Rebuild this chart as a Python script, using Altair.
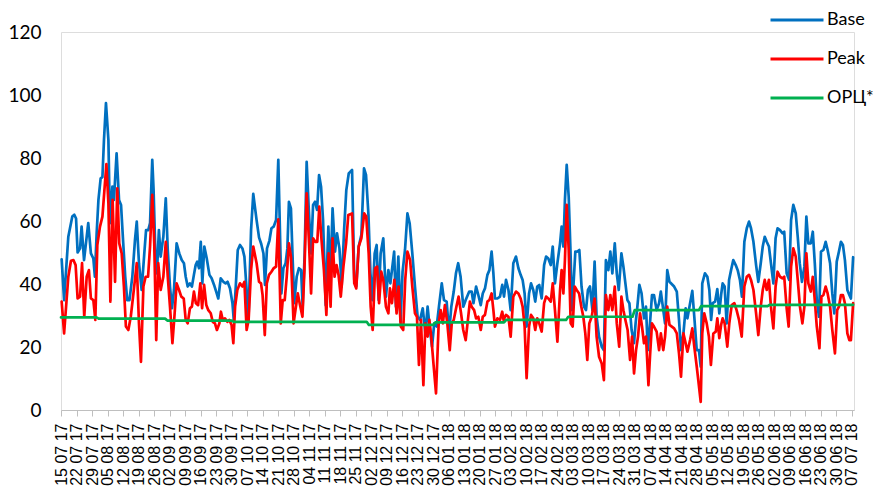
import altair as alt
import pandas as pd

tick_labels = ['15 07 17', '22 07 17', '29 07 17', '05 08 17', '12 08 17', '19 08 17', '26 08 17',
               '02 09 17', '09 09 17', '16 09 17', '23 09 17', '30 09 17', '07 10 17', '14 10 17',
               '21 10 17', '28 10 17', '04 11 17', '11 11 17', '18 11 17', '25 11 17', '02 12 17',
               '09 12 17', '16 12 17', '23 12 17', '30 12 17', '06 01 18', '13 01 18', '20 01 18',
               '27 01 18', '03 02 18', '10 02 18', '17 02 18', '24 02 18', '03 03 18', '10 03 18',
               '17 03 18', '24 03 18', '31 03 18', '07 04 18', '14 04 18', '21 04 18', '28 04 18',
               '05 05 18', '12 05 18', '19 05 18', '26 05 18', '02 06 18', '09 06 18', '16 06 18',
               '23 06 18', '30 06 18', '07 07 18']

base_day = [0.3, 1.4, 3.3, 5.1, 6, 6.8, 7.5, 8.6, 9.3, 10.4, 12.3, 13.5, 14.6, 15.3, 16.1, 16.9, 17.9, 18.7,
            19.4, 20.3, 21.4, 22.1, 23.2, 23.9, 25.1, 26.2, 27.1, 28.1, 29, 29.9, 30.9, 32.2, 33.4, 34.2,
            35.2, 36.4, 37.5, 38.4, 39.4, 40.2, 41.2, 41.8, 42.6, 43.3, 44.2, 45, 46.2, 47.3, 48.2, 49.2,
            50.1, 51, 52.2, 53.4, 54.5, 55.5, 56.3, 57.2, 58.2, 59.1, 60, 60.8, 61.5, 62.3, 63.1, 63.8,
            64.7, 65.8, 67, 68, 69.1, 70.3, 71, 72.1, 73.3, 74.3, 75.2, 76.3, 77.4, 78, 78.9, 79.8, 80.8,
            81.9, 82.8, 83.8, 84.6, 85.8,
            86.8, 88.3, 89.4, 90.4, 91.4, 92.1, 93, 94.1, 95, 96, 97.1, 98.1, 99.5, 100.4, 101.4, 102.2,
            102.9, 103.8, 104.6, 105.3, 106.4, 107.4, 108.4, 109.1, 110, 110.9, 111.8, 112.9, 113.8,
            114.7, 115.6, 116.5, 117.4, 118.3, 119.5, 120.7, 121.6, 122.6, 123.7, 124.6, 125.7, 126.7,
            127.8, 128.8, 129.9, 131.4, 132.4, 133.3, 134.4, 135.6, 136.8, 137.7, 138.8, 139.7, 140.6,
            141.6, 142.5, 143.4, 144.3, 145.5, 146.7, 147.8, 148.7, 150.4, 151.2, 152.3, 153.3, 154.2,
            155.3, 156.4, 157.4, 158.6, 159.8, 161, 162.1, 163.3, 164.5, 165.5, 166.4, 167.5, 168.5,
            169.6, 170.7, 171.9, 172.9, 174.1, 175.2, 176.2, 177.3, 178.3, 179.3, 180.4, 181.6, 182.7,
            184.3, 185.4, 186.2, 187.4, 188.4, 189.5, 190.4, 191.4, 192.5, 193.4, 194.4, 195.2, 195.9,
            197, 198.2, 199.2, 200, 200.9, 202, 203, 204.2, 205.4, 206.5, 207.5, 208.4, 209.3, 210.2,
            211.3, 212.2, 213.2, 214.1, 215, 215.9, 217, 218.1, 219, 220, 221.1, 222, 223, 224.1, 225.3,
            226, 226.8, 227.5, 228.3, 229.2, 230, 230.7, 231.4, 232.2, 233.1, 234, 235, 236.1, 237,
            237.9, 238.8, 239.9, 240.9, 241.8, 242.9, 244.1, 245.1, 246, 247.1, 248, 248.9, 250, 250.9,
            251.8, 253, 253.9, 254.8, 255.7, 256.6, 257.6, 258.7, 259.4, 260.2, 261.1, 262.1, 263.2,
            264.1, 264.9, 265.9, 266.8, 267.7, 268.9, 270, 270.8, 271.9, 272.7, 273.7,
            274.7, 276.8, 278, 279, 279.9, 281, 282, 282.8, 284, 285, 285.9, 287, 288, 288.8, 289.5,
            290.7, 291.8, 292.7, 293.5, 294.2, 295.3, 296.3, 297.2, 298, 298.7, 299.6, 300.5, 301.6,
            302.5, 303.5, 304.6, 305.5, 306.5, 307.4, 308.5, 309.6, 310.6, 311.5, 312.6, 313.8, 314.8,
            315.9, 316.8, 317.7, 318.6, 319.6, 320.5, 321.6, 322.6, 323.5, 324.6, 325.7, 326.5, 327.6,
            328.7, 329.6, 330.6, 331.7, 332.6, 333.5, 334.5, 335.6, 336.5, 337.4, 338.5, 339.4, 340.3,
            341.2, 342.2, 343.1, 344.2, 345.2, 346.1, 347.2, 348.2, 349.1, 350.2, 351.2, 352.1, 353,
            353.9, 355, 355.9, 356.6, 357.6]
base_val = [47.8, 34.9, 55, 61.4, 62, 60.8, 50, 51.3, 58.2, 47.6, 59.3, 49.7, 48.1, 42.3, 56.1, 66.7, 73.5,
            73.9, 85.7, 97.4, 85.7, 59.3, 70.9, 66.7, 81.5, 66.7, 65.1, 52.9, 42.3, 34.9, 34.9, 42.3, 54,
            59.8, 46.6, 38.1, 48.7, 57.1, 57.1, 59.3, 79.4, 69.8, 49.7, 43.4, 57.1, 48.7, 55, 67.2, 50.8,
            39.2, 32.3, 38.1, 52.9, 49.7, 47.6, 46.6, 42.3, 39.2, 40.2, 39.2, 42.9, 46, 47.1, 45, 53.4,
            40.2, 51.9, 48.1, 42.9, 41.8, 39.7, 37, 35.4, 41.8, 40.7, 40.2, 40.7, 38.6, 33.9, 28.6, 39.2,
            50.8, 52.4, 51.3, 48.7, 38.1, 28, 57.1,
            68.6, 60.3, 54.8, 52.7, 49.7, 39.7, 51.3, 53.8, 57.7, 58.2, 60.3, 79.4, 37, 45, 46.6, 51.3,
            66.1, 64, 47.6, 33.9, 42.3, 45, 44.4, 32.8, 49.7, 78.8, 64.6, 49.7, 65.1, 66.1, 63.5, 74.6,
            70.9, 60.3, 33.3, 58.2, 41.3, 64, 50.3, 56.1, 51.3, 39.2, 57.1, 69.8, 75.1, 76.2, 41.3, 39.2,
            51.9, 55.6, 76.7, 74.6, 61.9, 43.4, 34.9, 49.7, 52.4, 34.9, 49.7, 54.5, 36, 44.4, 40.2, 50.3,
            32.8, 48.7, 28, 43.9, 50.8, 62.4, 59.3, 49.7, 39.2, 29.6, 28.6, 32.3, 24.3, 32.8, 26.5, 20.1,
            27.5, 26.5, 33.3, 40.2, 34.9, 34.4, 24.3, 32.8, 37.6, 43.4, 46.6, 42.3, 32.8, 34.9,
            37.6, 37.6, 33.9, 39.2, 36.5, 33.3, 37, 38.6, 42.9, 44.4, 50.3, 43.4, 35.4, 35.4, 36, 39.7,
            36, 41.3, 38.1, 31.7, 46.6, 48.7, 45, 42.9, 41.3, 37, 26.5, 37, 40.2, 38.1, 34.4, 39.2, 39.7,
            35.4, 46, 48.7, 48.1, 46, 51.9, 40.2, 46.6, 52.9, 58.2, 51.9, 66.7, 77.8, 67.7, 50.8, 31.7,
            40.2, 50.3, 50.3, 50.8, 39.2, 32.8, 31.7, 38.1, 39.2, 31.7, 47.1, 29.6, 23.3, 20.1, 19, 47.6,
            44.4, 50.3, 43.4, 52.9, 43.4, 38.1, 49.7, 45.5, 40.2, 34.9, 33.9, 25.4, 21.2, 27.5, 32.8,
            39.7, 37, 29.1, 32.8, 19, 27.5, 36.5, 36.5, 31.7, 33.9, 37.6, 31.7, 27.5, 44.4,
            40.7, 39.2, 37.6, 28.6, 19, 24.3, 32.3, 29.1, 33.9, 37.8, 29.6, 19, 19, 13.8, 40.2, 43.4,
            42.3, 38.1, 28.6, 33.9, 34.4, 38.4, 30.7, 36.5, 40.2, 39.2, 27.5, 41.3, 44.4, 47.6, 46, 44.4,
            41.3, 36, 53.4, 57.7, 59.8, 57.7, 53.4, 46, 40.7, 46.6, 51.9, 55, 53.4, 51.9, 46.6, 40.2,
            54.5, 57.7, 57.1, 56.1, 56.6, 43.4, 41.3, 60.3, 65.1, 62.4, 55, 46.6, 40.7, 45.5, 61.4, 52.9,
            52.9, 56.6, 46.6, 34.9, 29.6, 50.3, 50.8, 53.4, 50.8, 46.6, 37, 30.7, 47.1, 50.3, 53.4, 52.4,
            47.6, 38.1, 36.5, 35.4, 48.5]

peak_day = [0.3, 1.4, 3.3, 4.5, 5.6, 6.6, 7.5, 8.6, 9.5, 10.5, 11.6, 12.6, 13.5, 14.6, 15.5, 16.4, 17.6,
            18.7, 19.6, 20.5, 21.4, 22.3, 23.3, 24.4, 25.4, 26.3, 27.4, 28.4, 29.3, 30.4, 31.5, 32.7,
            34.2, 35.2, 36.1, 37.2, 38.2, 39.3, 40.2, 41.2, 42.1, 43, 43.9, 45, 46.2, 47.3, 48.2, 49.2,
            50.3, 51.2, 52.2, 53.3, 54.3, 55.4, 56.3, 57.2, 58.2, 59.1, 60, 60.9, 61.9, 62.9, 63.7, 64.6,
            65.6, 66.5, 67.6, 68.5, 69.5, 70.4, 71.5, 72.2, 73, 74, 75.1, 76, 77, 77.8, 78.6, 79.6, 80.8,
            81.9, 82.8, 83.8, 84.7, 85.8,
            86.8, 88.3, 89.4, 90.3, 91, 92, 92.9, 93.9, 95, 96, 97.1, 98.1, 99.2, 100.1, 101, 101.9,
            102.9, 103.8, 105, 106.9, 107.9, 109, 109.9, 110.9, 111.9, 112.9, 113.8, 114.8, 115.7, 116.6,
            117.5, 118.7, 119.8, 120.8, 121.7, 122.6, 123.5, 124.4, 125.3, 126.3, 127.5, 128.7, 129.7,
            131.4, 132.4, 133.3, 134.4, 135.6, 136.9, 137.8, 138.9, 139.8, 140.7, 141.8, 142.7, 143.6,
            144.6, 145.5, 146.7, 147.8, 148.5, 149.4, 150.5, 151.5, 152.4, 153.4, 154.5, 155.4, 156.4,
            157.6, 158.6, 159.8, 160.7, 161.6, 162.5, 163.6, 164.5, 165.5, 166.3, 167.2, 168.2, 169.3,
            170.5, 171.4, 172.4, 173.3, 174.4, 175.5, 176.4, 177.3, 178.5, 179.5, 180.6, 181.6, 182.7,
            184.6, 185.4, 186.5, 187.4, 188.4, 189.5, 190.4, 191.4, 192.5, 193.4, 194.4, 195.2, 195.9,
            197, 198.2, 199.2, 199.8, 200.9, 202, 203, 204.2, 205.4, 206.5, 207.5, 208.4, 209.3, 210.2,
            211.3, 212.2, 213.2, 214.1, 215, 215.9, 217, 218.1, 219, 220, 221.1, 222, 223, 224.1, 225.3,
            226, 226.8, 227.5, 228.3, 229.2, 230.1, 231, 231.9, 232.8, 233.9, 234.9, 235.8, 236.7,
            237.6, 238.5, 239.6, 240.9, 241.8, 242.9, 244.1, 245.1, 246, 247.1, 248, 248.9, 250, 250.9,
            252, 253, 253.9, 254.8, 255.8, 256.9, 257.8, 258.7, 259.6, 260.5, 261.4, 262.3, 263.2,
            264.1, 265.2, 265.9, 266.8, 267.7, 268.9, 270, 270.8, 271.9, 272.7, 273.7,
            274.7, 276.8, 278, 279, 279.9, 281, 282, 282.8, 284, 285, 285.9, 287, 287.7, 288.8, 289.5,
            290.4, 291.5, 292.5, 293.4, 294.5, 295.6, 296.3, 297.2, 298, 298.7, 299.6, 300.8, 301.7,
            302.8, 304, 305, 306.1, 307.3, 308.5, 309.6, 310.6, 311.5, 312.6, 313.8, 314.8, 315.9,
            316.8, 317.7, 318.6, 319.6, 320.5, 321.6, 322.6, 323.5, 324.6, 325.7, 326.5, 327.6, 328.5,
            329.6, 330.6, 331.7, 332.6, 333.6, 334.7, 335.6, 336.5, 337.4, 338.5, 339.4, 340.3, 341.2,
            342.4, 343.3, 344.2, 345.2, 346.1, 347.2, 348.2, 349.4, 350.4, 351.2, 352.1, 353, 353.9,
            355, 355.9, 356.6, 357.6]
peak_val = [34.4, 24.3, 42.3, 47.4, 47.6, 46, 35.4, 36, 46.6, 29.6, 42.3, 44.4, 35.4, 34.9, 28.6, 52.4,
            58.2, 61.4, 69.8, 78.1, 65.6, 34.4, 66.7, 40.7, 70.4, 52.9, 49.7, 39.2, 26.5, 25.4, 29.6, 37,
            46.6, 27.5, 15.3, 39.2, 42.3, 42.3, 51.9, 68.3, 52.9, 22.2, 46.6, 38.1, 42.3, 53.4, 42.3, 32.8,
            21.2, 29.6, 40.2, 38.1, 36, 35.4, 28.6, 27.5, 32.3, 32.8, 37.6, 33.9, 33.3, 40.2, 32.3, 39.7,
            33.3, 31.7, 30.7, 28, 27.5, 25.4, 27.5, 31.2, 28.6, 29.1, 28, 28.6, 27, 21.2, 32.8, 38.1,
            40.2, 39.2, 40.7, 25.4, 28.6, 44.4,
            51.9, 46.6, 40.7, 40.2, 36.5, 23.8, 40.2, 42.9, 43.9, 45, 45.5, 60.5, 27.5, 34.9, 34.9, 42.3,
            52.9, 48.7, 27.5, 37, 33.3, 29.6, 44.4, 68.8, 54, 37, 54.5, 53.4, 53.4, 64.6, 55, 44.4, 30.2,
            49.7, 32.8, 54.5, 42.3, 46, 42.9, 36, 45.5, 52.9, 61.9, 62.4, 40.2, 38.6, 51.9, 54.5, 62.4,
            61.4, 49.7, 32.8, 25.4, 45, 45.5, 33.9, 43.9, 41.3, 32.8, 30.7, 38.6, 33.9, 41.3, 30.7, 39.2,
            26.5, 25.4, 41.3, 50.3, 47.6, 39.2, 30.7, 29.6, 14.3, 28.6, 7.9, 27.5, 23.3, 28.6, 22.8, 14.3,
            5.3, 27.5, 31.7, 27.5, 33.3, 27.5, 19, 27.5, 28.6, 32.8, 36, 30.7, 25.4, 22.2,
            34.4, 32.8, 31.7, 29.1, 29.6, 25.4, 29.6, 30.2, 34.4, 34.9, 37, 31.7, 26.5, 29.1, 28.6, 31.2,
            28.6, 30.2, 29.6, 23.3, 36, 37.6, 37, 35.4, 32.8, 26.5, 10.1, 26.5, 30.2, 29.1, 25.4, 29.1,
            27.5, 24.9, 33.9, 36, 35.4, 34.4, 40.2, 31.7, 21.7, 38.1, 44.4, 37, 47.6, 65.1, 50.8, 27.5,
            26.5, 39.2, 38.1, 37, 32.8, 29.6, 24.3, 15.9, 27.5, 29.6, 35.4, 23.3, 16.9, 14.8, 9.5, 36.5,
            31.7, 36.5, 31.7, 39.2, 27.5, 20.1, 36, 31.7, 28.6, 25.4, 15.9, 23.3, 11.6, 19, 23.3, 30.7,
            26.5, 21.2, 23.3, 7.9, 16.9, 27.5, 26.5, 24.9, 19, 24.3, 19, 23.3, 32.8,
            27, 25.9, 24.3, 18, 10.6, 24.3, 21.2, 18.5, 22.2, 25.9, 20.1, 13.8, 9.5, 2.6, 24.3, 30.7,
            27.5, 23.3, 14.3, 24.3, 24.9, 29.1, 22.8, 27, 29.1, 27.5, 20.1, 27.5, 33.3, 33.9, 31.7, 28.6,
            23.3, 39.2, 42.3, 42.9, 41.3, 38.1, 30.7, 23.8, 32.8, 38.1, 41.3, 38.1, 41.3, 32.8, 25.9,
            39.2, 43.9, 42.3, 41.8, 42.3, 32.3, 26.5, 45.5, 51.3, 48.7, 41.3, 32.8, 27.5, 32.8, 49.7,
            40.2, 37.6, 42.3, 34.9, 26.5, 19.6, 36, 36.5, 39.2, 37, 32.8, 25.4, 18, 31.7, 32.8, 36.5,
            36.5, 33.9, 24.3, 22.2, 22.2, 33.9]

orc_day = [0, 16, 17, 47, 48, 77, 78, 138, 139, 168, 169, 200, 201, 228, 229, 258, 259, 288, 289, 319,
           320, 357.6]
orc_val = [29.4, 29.4, 29.0, 29.0, 28.4, 28.4, 28.0, 28.0, 27.0, 27.0, 27.8, 27.8, 28.6, 28.6, 29.6,
           29.6, 31.7, 31.7, 33.0, 33.0, 33.4, 33.4]

series_names = ["Base", "Peak", "ОРЦ*"]
series_colors = ["#0070C0", "#FF0000", "#00B050"]
y_ticks = [0, 20, 40, 60, 80, 100, 120]

frames = []
for k, (name, d, v) in enumerate(zip(series_names,
                                      [base_day, peak_day, orc_day],
                                      [base_val, peak_val, orc_val])):
    frames.append(pd.DataFrame({"day": d, "value": v, "series": name, "rank": k}))
df = pd.concat(frames, ignore_index=True)

label_expr = "[" + ",".join("'" + t + "'" for t in tick_labels) + "][round(datum.value / 7)]"
tick_values = [7 * i for i in range(len(tick_labels))]

chart = alt.Chart(df).mark_line(strokeWidth=2.7, strokeJoin="round", strokeCap="round").encode(
    x=alt.X("day:Q",
            scale=alt.Scale(domain=[0, 358], nice=False, zero=False),
            axis=alt.Axis(values=tick_values, labelExpr=label_expr, labelAngle=270,
                          labelFont="Liberation Sans", labelFontSize=16, labelColor="#000000",
                          domainColor="#bfbfbf", domainWidth=1.2, tickColor="#bfbfbf", tickSize=6,
                          labelPadding=7, title=None, grid=False, labelOverlap=False,
                          labelFlush=False, labelBound=False)),
    y=alt.Y("value:Q",
            scale=alt.Scale(domain=[0, 120], nice=False),
            axis=alt.Axis(values=y_ticks, domain=False, ticks=False, grid=False,
                          labelFont="Lato", labelFontSize=19, labelColor="#000000",
                          labelPadding=20, title=None)),
    color=alt.Color("series:N",
                    scale=alt.Scale(domain=series_names, range=series_colors),
                    legend=alt.Legend(title=None, orient="none", legendX=721, legendY=-27,
                                      direction="vertical", symbolType="M-2,0H2", symbolSize=702,
                                      symbolStrokeWidth=3, labelFont="Lato", labelFontSize=18,
                                      labelColor="#000000", labelOffset=15, rowPadding=15,
                                      padding=0)),
    order=alt.Order("rank:Q"),
).properties(
    width=793, height=378, autosize="none",
    padding={"left": 53, "top": 24, "right": 19, "bottom": 81},
).configure_view(stroke=None).configure(background="white")

chart.save("out.html", embed_options={"renderer": "svg", "actions": False})
